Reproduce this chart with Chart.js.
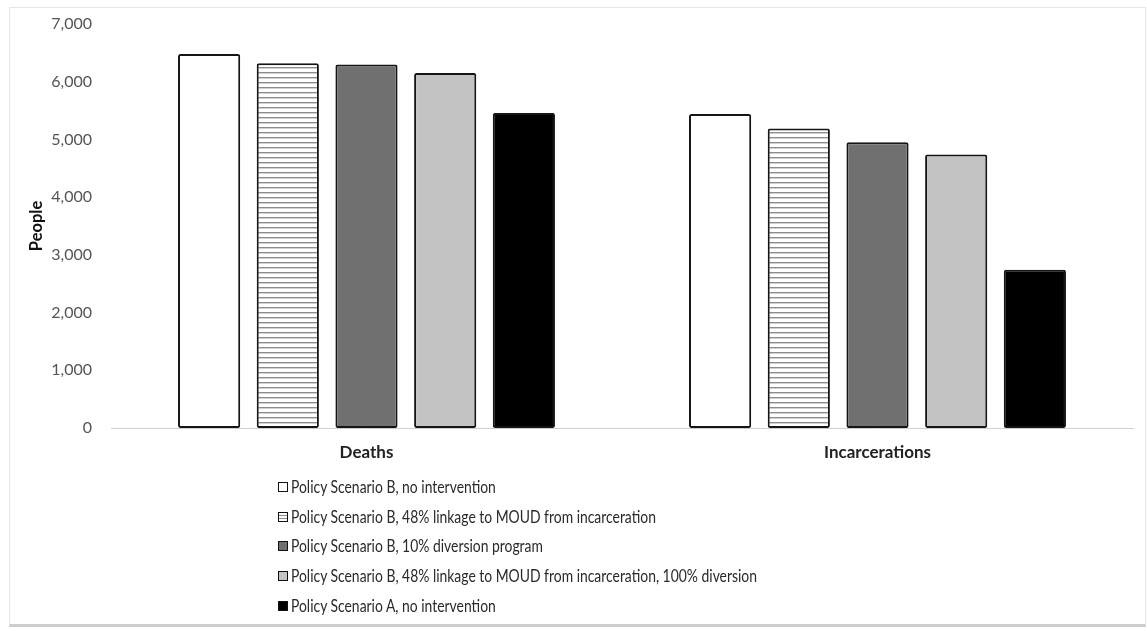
<!DOCTYPE html>
<html>
<head>
<meta charset="utf-8">
<script src="https://cdn.jsdelivr.net/npm/chart.js@4/dist/chart.umd.min.js"></script>
<style>
  html, body { margin: 0; padding: 0; background: #fff; }
  #wrap { position: relative; width: 1147px; height: 631px; overflow: hidden; }
  #frame {
    position: absolute; left: 9px; top: 7px; width: 1135px; height: 616px;
    border: 1px solid #e6e6e6; border-bottom: 3px solid #cdcdcd;
  }
  #chart { position: absolute; left: 0; top: 0; }
  #legend {
    position: absolute; left: 278px; top: 472px;
    font-family: Lato, "Open Sans", sans-serif; font-size: 16.5px; color: #2a2a2a;
  }
  .item { height: 29.7px; display: flex; align-items: center; white-space: nowrap; }
  .sw { width: 8px; height: 8px; border: 1.6px solid #111; margin-right: 3px; box-sizing: content-box; flex: none; }
  .tx { display: inline-block; transform-origin: 0 50%; }
</style>
</head>
<body>
<div id="wrap">
  <div id="frame"></div>
  <canvas id="chart" width="1147" height="631"></canvas>
  <div id="legend"></div>
</div>
<script>
// Outcome categories on the x axis
const categories = ['Deaths', 'Incarcerations'];

// Scenario names, one per bar series
const scenarios = [
  'Policy Scenario B, no intervention',
  'Policy Scenario B, 48% linkage to MOUD from incarceration',
  'Policy Scenario B, 10% diversion program',
  'Policy Scenario B, 48% linkage to MOUD from incarceration, 100% diversion',
  'Policy Scenario A, no intervention'
];

// People affected, per scenario: [Deaths, Incarcerations]
const scenarioB_none      = [6480, 5440];
const scenarioB_moud48    = [6320, 5190];
const scenarioB_divert10  = [6300, 4950];
const scenarioB_moudDiv   = [6150, 4740];
const scenarioA_none      = [5460, 2740];

// Y axis ticks
const yTicks = [0, 1000, 2000, 3000, 4000, 5000, 6000, 7000];

const seriesValues = [scenarioB_none, scenarioB_moud48, scenarioB_divert10, scenarioB_moudDiv, scenarioA_none];

// Horizontal hatch fill for the MOUD linkage series
function hatch() {
  const c = document.createElement('canvas');
  c.width = 8; c.height = 5;
  const g = c.getContext('2d');
  g.fillStyle = '#ffffff';
  g.fillRect(0, 0, 8, 5);
  g.fillStyle = '#8c8c8c';
  g.fillRect(0, 2, 8, 1.4);
  return g.createPattern(c, 'repeat');
}
const ctx = document.getElementById('chart').getContext('2d');
const fills = ['#ffffff', hatch(), '#707070', '#c3c3c3', '#000000'];
const swatchCss = [
  '#ffffff',
  'repeating-linear-gradient(to bottom, #fff 0px, #fff 2px, #8c8c8c 2px, #8c8c8c 3px)',
  '#707070', '#c3c3c3', '#000000'
];

const datasets = scenarios.map((name, i) => ({
  label: name,
  data: seriesValues[i],
  backgroundColor: fills[i],
  borderColor: '#151515',
  borderWidth: 2,
  borderSkipped: false,
  borderRadius: 2,
  categoryPercentage: 0.77,
  barPercentage: 0.79
}));

// HTML legend, stacked vertically under the plot, condensed to a narrow face
const legendEl = document.getElementById('legend');
const texts = [];
scenarios.forEach((name, i) => {
  const row = document.createElement('div');
  row.className = 'item';
  const sw = document.createElement('span');
  sw.className = 'sw';
  sw.style.background = swatchCss[i];
  const tx = document.createElement('span');
  tx.className = 'tx';
  tx.textContent = name;
  row.appendChild(sw); row.appendChild(tx);
  legendEl.appendChild(row);
  texts.push(tx);
});
const widest = Math.max(...texts.map(t => t.getBoundingClientRect().width));
const squeeze = 466 / widest;
texts.forEach(t => { t.style.transform = 'scaleX(' + squeeze + ')'; });

const fontFamily = 'Lato, "Open Sans", sans-serif';

new Chart(ctx, {
  type: 'bar',
  data: { labels: categories, datasets },
  options: {
    responsive: false,
    animation: false,
    events: [],
    layout: { padding: { left: 27, top: 24, right: 14, bottom: 0 } },
    plugins: { legend: { display: false }, tooltip: { enabled: false } },
    scales: {
      x: {
        grid: { display: false, drawTicks: false },
        border: { display: true, color: '#d0d0d0', width: 1 },
        ticks: {
          padding: 14,
          color: '#222',
          font: { family: fontFamily, size: 17, weight: 'bold' }
        },
        afterFit: s => { s.height = 631 - 428; }
      },
      y: {
        min: 0, max: 7000,
        afterBuildTicks: s => { s.ticks = yTicks.map(v => ({ value: v })); },
        grid: { display: false, drawTicks: false },
        border: { display: false },
        ticks: {
          padding: 19,
          color: '#555',
          font: { family: fontFamily, size: 16 },
          callback: v => v.toLocaleString('en-US')
        },
        title: {
          display: true, text: 'People', color: '#111',
          padding: { top: 0, bottom: 0 },
          font: { family: fontFamily, size: 16.5, weight: 'bold' }
        },
        afterFit: s => {
          s.width = 111 - 27;
          // let the layout padding alone decide where the plot starts
          s.paddingTop = 0;
          s.paddingBottom = 0;
        }
      }
    }
  }
});
</script>
</body>
</html>
